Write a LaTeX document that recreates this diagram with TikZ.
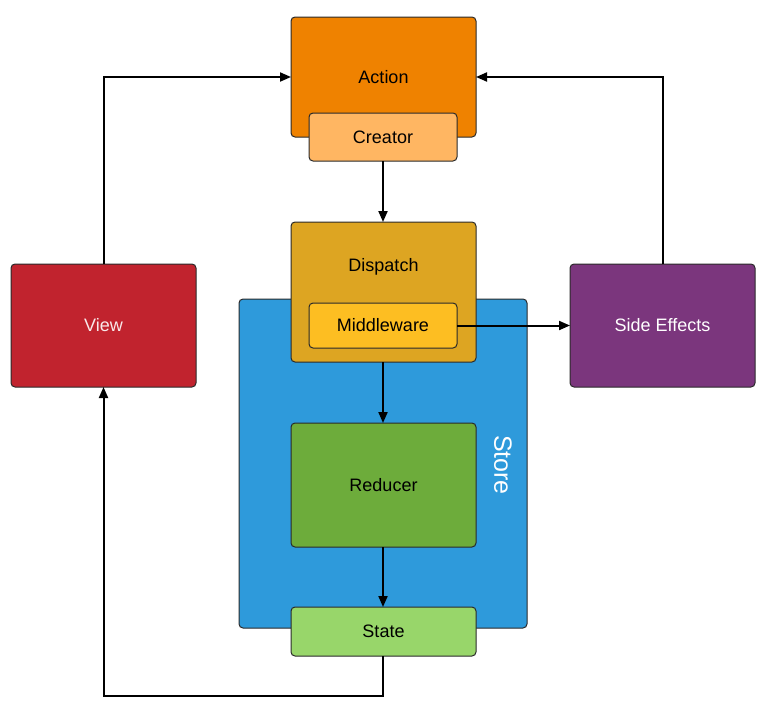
\documentclass[tikz,border=0pt]{standalone}
\usepackage{fontspec}
\setmainfont{Liberation Sans}
\usetikzlibrary{arrows.meta, positioning, calc}

\definecolor{actionC}{HTML}{EF8200}
\definecolor{creatorC}{HTML}{FFB662}
\definecolor{dispatchC}{HTML}{DDA522}
\definecolor{middleC}{HTML}{FDBE22}
\definecolor{storeC}{HTML}{2E9ADB}
\definecolor{reducerC}{HTML}{6DAC3B}
\definecolor{stateC}{HTML}{98D66A}
\definecolor{viewC}{HTML}{C1232E}
\definecolor{sideC}{HTML}{7B367D}
\definecolor{edgeC}{HTML}{2A2A2A}

\begin{document}
\begin{tikzpicture}[
    x=1pt, y=-1pt,
    font=\fontsize{18}{20}\selectfont,
    box/.style={draw=edgeC, line width=1pt, rounded corners=4pt, inner sep=0pt, outer sep=0pt, align=center},
    bigbox/.style={box, minimum width=185pt},
    smallbox/.style={box, minimum width=148pt},
    arrow/.style={-{Triangle[length=11pt, width=9pt]}, line width=2pt}
]

    \useasboundingbox (0,0) rectangle (773,712);

    % Store container
    \node[box, fill=storeC, minimum width=288pt, minimum height=329pt] (store) at (383,463.5) {};
    \node[rotate=-90, text=white, font=\fontsize{25}{28}\selectfont] (store_label) at (503,465) {Store};

    % Components
    \node[bigbox, fill=actionC, minimum height=120pt] (action) at (383.5,77) {Action};
    \node[smallbox, fill=creatorC, minimum height=48pt] (creator) at (383,137) {Creator};
    \node[bigbox, fill=dispatchC, minimum height=140pt,
          label={[yshift=25pt]center:Dispatch}] (dispatch) at (383.5,292) {};
    \node[smallbox, fill=middleC, minimum height=45pt] (middleware) at (383,325.5) {Middleware};
    \node[bigbox, fill=reducerC, minimum height=124pt] (reducer) at (383.5,485) {Reducer};
    \node[bigbox, fill=stateC, minimum height=49pt] (state) at (383.5,631.5) {State};
    \node[bigbox, fill=viewC, minimum height=123pt, text=white!90!viewC] (view) at (103.5,325.5) {View};
    \node[bigbox, fill=sideC, minimum height=123pt, text=white] (side_fx) at (662.5,325.5) {Side Effects};

    % Connections
    \draw[arrow] (view.north) |- (action.west);
    \draw[arrow] (side_fx.north) |- (action.east);
    \draw[arrow] (creator.south) -- (dispatch.north -| creator.south);
    \draw[arrow] (middleware.east) -- (side_fx.west |- middleware.east);
    \draw[arrow] (dispatch.south -| creator.south) -- (reducer.north -| creator.south);
    \draw[arrow] (reducer.south -| creator.south) -- (state.north -| creator.south);
    \draw[arrow] (state.south -| creator.south) -- ++(0,40) -| (view.south);

\end{tikzpicture}
\end{document}
